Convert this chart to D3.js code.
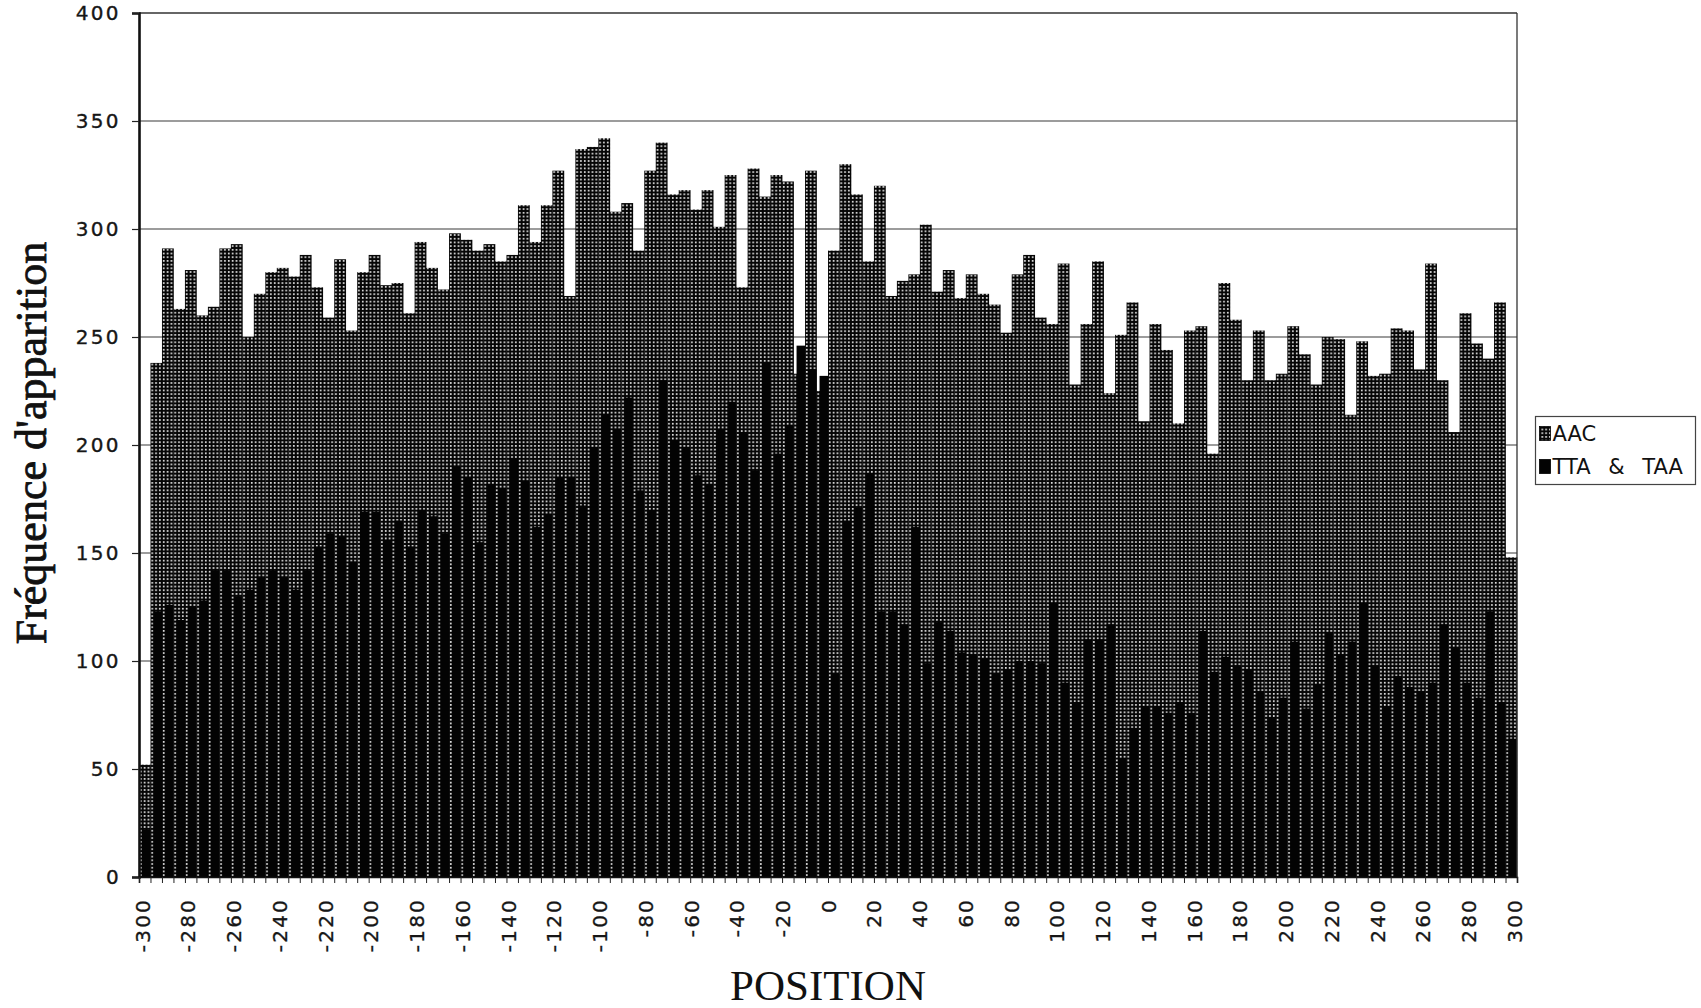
<!DOCTYPE html>
<html>
<head>
<meta charset="utf-8">
<script src="https://cdn.jsdelivr.net/npm/d3@7"></script>
<style>
  html, body { margin: 0; padding: 0; background: #fff; }
  svg { display: block; }
</style>
</head>
<body>
<svg id="chart" width="1701" height="1008"></svg>
<script>
// Window start positions (5-nt steps around the reference site)
const positions = [-300,-295,-290,-285,-280,-275,-270,-265,-260,-255,-250,-245,-240,-235,-230,-225,-220,-215,-210,-205,
  -200,-195,-190,-185,-180,-175,-170,-165,-160,-155,-150,-145,-140,-135,-130,-125,-120,-115,-110,-105,
  -100,-95,-90,-85,-80,-75,-70,-65,-60,-55,-50,-45,-40,-35,-30,-25,-20,-15,-10,-5,
  0,5,10,15,20,25,30,35,40,45,50,55,60,65,70,75,80,85,90,95,
  100,105,110,115,120,125,130,135,140,145,150,155,160,165,170,175,180,185,190,195,
  200,205,210,215,220,225,230,235,240,245,250,255,260,265,270,275,280,285,290,295];

// Occurrences of AAC per window
const aac = [52,238,291,263,281,260,264,291,293,250,
  270,280,282,278,288,273,259,286,253,280,
  288,274,275,261,294,282,272,298,295,290,
  293,285,288,311,294,311,327,269,337,338,
  342,308,312,290,327,340,316,318,309,318,
  301,325,273,328,315,325,322,233,327,225,
  290,330,316,285,320,269,276,279,302,271,
  281,268,279,270,265,252,279,288,259,256,
  284,228,256,285,224,251,266,211,256,244,
  210,253,255,196,275,258,230,253,230,233,
  255,242,228,250,249,214,248,232,233,254,
  253,235,284,230,206,261,247,240,266,148];

// Occurrences of TTA & TAA per window
const ttaTaa = [22,123,126,119,125,128,142,142,130,133,
  139,142,139,133,142,153,159,158,146,169,
  169,156,165,153,170,167,159,190,185,155,
  182,180,194,183,162,168,185,185,172,199,
  214,207,222,179,170,230,202,199,186,182,
  207,220,206,188,238,196,209,246,235,232,
  94,165,171,187,123,123,117,162,99,118,
  114,104,103,101,94,96,100,100,99,127,
  90,81,110,110,117,55,69,79,79,76,
  81,76,114,95,102,98,96,86,74,83,
  109,78,89,113,103,109,127,98,79,93,
  88,86,90,117,106,90,83,123,81,64];

const xTickLabels = [-300,-280,-260,-240,-220,-200,-180,-160,-140,-120,-100,-80,-60,-40,-20,
  0,20,40,60,80,100,120,140,160,180,200,220,240,260,280,300];
const yTickLabels = [0,50,100,150,200,250,300,350,400];
const seriesNames = ["AAC", "TTA & TAA"];

const step = 5;
const plot = { left: 139, right: 1517, top: 13, bottom: 877 };

const svg = d3.select("#chart");
const x = d3.scaleLinear().domain([-300, 300]).range([plot.left, plot.right]);
const y = d3.scaleLinear().domain([0, 400]).range([plot.bottom, plot.top]);
const cellW = x(step) - x(0);
// tick labels sit slightly inside the frame ends
const xLabelPos = d3.scaleLinear().domain([-300, 300]).range([plot.left + 3, plot.right - 3]);

// Dotted fill: black ground with a regular grid of white dots
const defs = svg.append("defs");
const pat = defs.append("pattern")
  .attr("id", "dots")
  .attr("patternUnits", "userSpaceOnUse")
  .attr("x", plot.left).attr("y", plot.bottom)
  .attr("width", cellW / 3).attr("height", 3.7);
pat.append("rect").attr("width", cellW / 3).attr("height", 3.7).attr("fill", "#050505");
pat.append("rect").attr("x", 0.9).attr("y", 1).attr("width", 1.7).attr("height", 1.6).attr("fill", "#f2f2f2");

// Horizontal gridlines
svg.append("g")
  .selectAll("line")
  .data(yTickLabels.filter(v => v > 0 && v < 400))
  .join("line")
  .attr("x1", plot.left).attr("x2", plot.right)
  .attr("y1", d => y(d)).attr("y2", d => y(d))
  .attr("stroke", "#3a3a3a").attr("stroke-width", 1.1);

// AAC bars (full window width)
svg.append("g")
  .selectAll("rect")
  .data(positions)
  .join("rect")
  .attr("x", d => x(d))
  .attr("width", cellW + 0.35)
  .attr("y", (d, i) => y(aac[i]))
  .attr("height", (d, i) => y(0) - y(aac[i]))
  .attr("fill", "url(#dots)");

// TTA & TAA bars, drawn in front and slightly narrower
svg.append("g")
  .selectAll("rect")
  .data(positions)
  .join("rect")
  .attr("x", d => x(d) + 3)
  .attr("width", cellW - 3)
  .attr("y", (d, i) => y(ttaTaa[i]))
  .attr("height", (d, i) => y(0) - y(ttaTaa[i]))
  .attr("fill", "#030303");

// Plot frame
svg.append("line").attr("x1", plot.left).attr("x2", plot.right).attr("y1", plot.top).attr("y2", plot.top)
  .attr("stroke", "#333").attr("stroke-width", 1.3);
svg.append("line").attr("x1", plot.right).attr("x2", plot.right).attr("y1", plot.top).attr("y2", plot.bottom)
  .attr("stroke", "#333").attr("stroke-width", 1.3);

const tickFont = sel => sel
  .attr("fill", "#161616")
  .attr("stroke", "#161616").attr("stroke-width", 0.35)
  .style("font-family", "'DejaVu Sans', sans-serif")
  .style("font-size", "20px");

// Y axis
const yAxis = svg.append("g")
  .attr("transform", `translate(${plot.left},0)`)
  .call(d3.axisLeft(y).tickValues(yTickLabels).tickSize(7).tickPadding(11).tickFormat(d => String(d)));
yAxis.select(".domain").attr("stroke", "#111").attr("stroke-width", 2.6);
yAxis.selectAll(".tick line").attr("stroke", "#222").attr("stroke-width", 1.2);
yAxis.selectAll(".tick text").call(tickFont).style("letter-spacing", "2.4px");

// X axis: small ticks at every window boundary
const xTickAll = positions.concat([300]);
const xMinor = svg.append("g")
  .attr("transform", `translate(0,${plot.bottom})`)
  .call(d3.axisBottom(x).tickValues(xTickAll).tickSize(6).tickFormat(""));
xMinor.select(".domain").attr("stroke", "#111").attr("stroke-width", 1.6);
xMinor.selectAll(".tick line").attr("stroke", "#222").attr("stroke-width", 1);

// X axis labels, rotated
const xAxis = svg.append("g")
  .attr("transform", `translate(0,${plot.bottom})`)
  .call(d3.axisBottom(xLabelPos).tickValues(xTickLabels).tickSize(0).tickFormat(d => String(d)));
xAxis.select(".domain").remove();
xAxis.selectAll(".tick text")
  .attr("transform", "rotate(-90)")
  .attr("x", -21).attr("y", 0).attr("dy", "0.36em")
  .style("text-anchor", "end")
  .call(tickFont)
  .style("letter-spacing", "2.2px");

// Axis titles
svg.append("text")
  .attr("x", (plot.left + plot.right) / 2).attr("y", 1000)
  .attr("text-anchor", "middle")
  .style("font-family", "'Liberation Serif', 'Times New Roman', serif")
  .style("font-size", "43px")
  .attr("fill", "#111")
  .text("POSITION");

svg.append("text")
  .attr("transform", "translate(46,443) rotate(-90)")
  .attr("text-anchor", "middle")
  .style("font-family", "'Liberation Serif', 'Times New Roman', serif")
  .style("font-size", "44px")
  .attr("fill", "#111")
  .attr("stroke", "#111").attr("stroke-width", 0.8)
  .text("Fréquence d'apparition");

// Legend
const lg = svg.append("g").attr("transform", "translate(1535.5,416.5)");
lg.append("rect").attr("width", 160).attr("height", 68)
  .attr("fill", "#fff").attr("stroke", "#444").attr("stroke-width", 1.2);
const swatchFill = ["url(#dots)", "#030303"];
seriesNames.forEach((name, i) => {
  const yy = 10 + i * 33;
  lg.append("rect").attr("x", 4).attr("y", yy).attr("width", 11).attr("height", 14)
    .attr("fill", swatchFill[i]).attr("stroke", "#000").attr("stroke-width", 0.8);
  lg.append("text").attr("x", 17).attr("y", yy + 14)
    .style("font-family", "'DejaVu Sans', sans-serif")
    .style("font-size", "21px")
    .style("word-spacing", "11px")
    .attr("fill", "#111")
    .text(name);
});
</script>
</body>
</html>
